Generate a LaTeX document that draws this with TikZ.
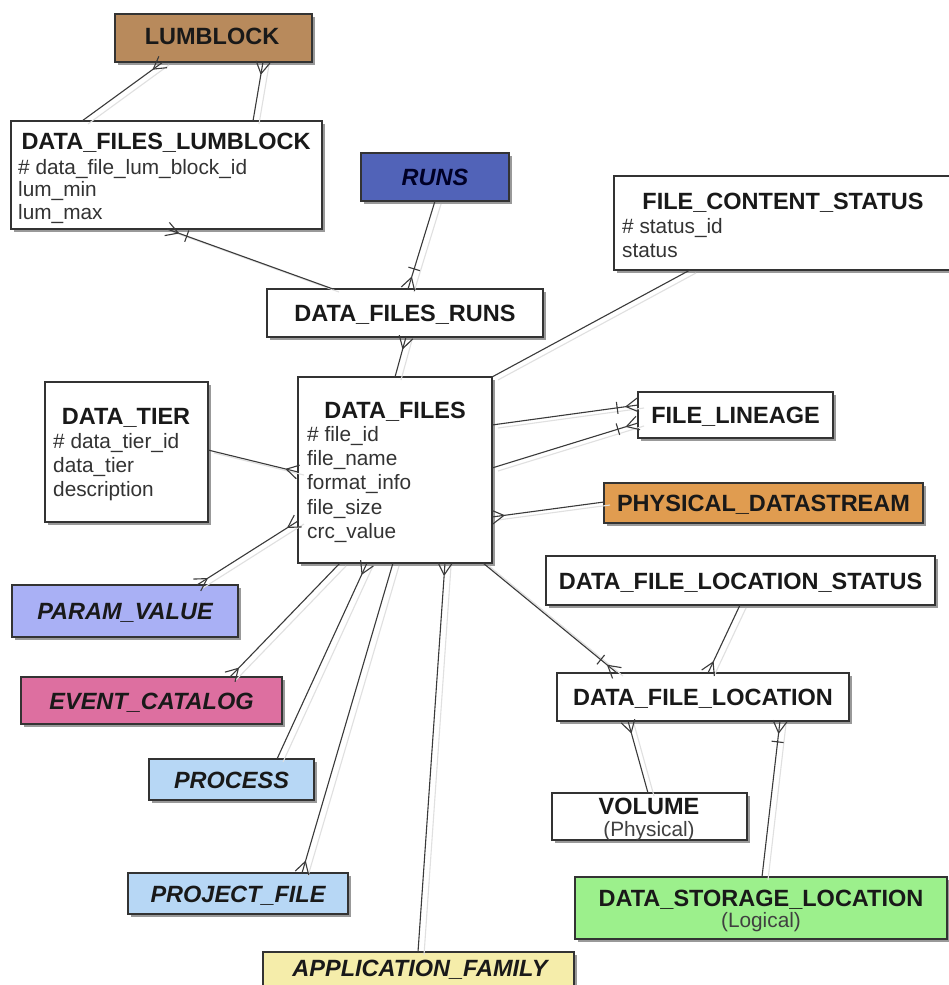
\documentclass[tikz,border=0pt]{standalone}
\usepackage{fontspec}
\setmainfont{Liberation Sans}
\usetikzlibrary{calc,shadows,decorations.markings}

\definecolor{lumbrown}{HTML}{B88A5C}
\definecolor{runsblue}{HTML}{5163B8}
\definecolor{streamorange}{HTML}{E09C50}
\definecolor{paramlav}{HTML}{A9B0F5}
\definecolor{eventpink}{HTML}{DD6FA0}
\definecolor{procblue}{HTML}{B7D7F5}
\definecolor{storegreen}{HTML}{9CF08C}
\definecolor{appyellow}{HTML}{F5EDAA}
\definecolor{inkline}{HTML}{3A3A3A}

\newcommand\erdtitle{\fontsize{23.5}{27}\selectfont\bfseries}
\newcommand\erdattr{\fontsize{20.8}{24.3}\selectfont}

% a connector with its faint offset shadow
\newcommand\erdlink[3][]{%
  \draw[linkshadow, transform canvas={shift={(6pt,-3pt)}}] #2 -- #3;
  \draw[link,#1] #2 -- #3;}

\tikzset{
  entity/.style={draw=black!80, line width=1.2pt, fill=white, rectangle,
    anchor=north west, inner sep=0pt, outer sep=0pt,
    drop shadow={shadow xshift=3pt, shadow yshift=-3pt, opacity=0.4, fill=black},
    font=\erdtitle, text=black!90, text height=17pt, text depth=0pt},
  ref/.style={font=\erdtitle\itshape},
  ttl/.style={font=\erdtitle, text=black!90, inner sep=0pt,
    text height=17pt, text depth=0pt},
  sub/.style={font=\erdattr, text=black!75, inner sep=0pt},
  attrs/.style={font=\erdattr, text=black!80, align=left,
    anchor=north west, inner sep=0pt},
  link/.style={draw=inkline, line width=1.1pt},
  linkshadow/.style={draw=black!12, line width=1.1pt},
  crow end/.style={postaction={decorate, decoration={markings,
    mark=at position 1 with {\draw[draw=inkline, line width=1.1pt]
      (-12pt,0pt) -- (0pt,7pt) (-12pt,0pt) -- (0pt,-7pt);}}}},
  crow start/.style={postaction={decorate, decoration={markings,
    mark=at position 0 with {\draw[draw=inkline, line width=1.1pt]
      (12pt,0pt) -- (0pt,7pt) (12pt,0pt) -- (0pt,-7pt);}}}},
  bar end/.style={postaction={decorate, decoration={markings,
    mark=at position 1 with {\draw[draw=inkline, line width=1.1pt]
      (-21pt,-6pt) -- (-21pt,6pt);}}}},
}

\begin{document}
\begin{tikzpicture}[x=1pt, y=-1pt]
\useasboundingbox[fill=white] (0,0) rectangle (949,985);

% ---------- entities ----------
\node[entity, fill=lumbrown, minimum width=197, minimum height=48] (lumblock) at (115,14) {};
\node[ttl] (lumblock-t) at (212,36) {LUMBLOCK};

\node[entity, minimum width=311, minimum height=108] (dflum) at (11,121) {};
\node[ttl] (dflum-t) at (166,141) {DATA\_FILES\_LUMBLOCK};
\node[attrs, font=\fontsize{20.8}{22.7}\selectfont] (dflum-a) at (18,159) {\# data\_file\_lum\_block\_id\\lum\_min\\lum\_max};

\node[entity, ref, fill=runsblue, text=black!85!blue, minimum width=148, minimum height=48] (runs) at (361,153) {RUNS};

\node[entity, minimum width=338, minimum height=94] (fcs) at (614,176) {};
\node[ttl] (fcs-t) at (783,201) {FILE\_CONTENT\_STATUS};
\node[attrs] (fcs-a) at (622,218) {\# status\_id\\status};

\node[entity, minimum width=276, minimum height=48] (dfruns) at (267,289) {DATA\_FILES\_RUNS};

\node[entity, minimum width=163, minimum height=140] (dtier) at (45,382) {};
\node[ttl] (dtier-t) at (126,416) {DATA\_TIER};
\node[attrs] (dtier-a) at (53,433) {\# data\_tier\_id\\data\_tier\\description};

\node[entity, minimum width=194, minimum height=186] (dfiles) at (298,377) {};
\node[ttl] (dfiles-t) at (395,410) {DATA\_FILES};
\node[attrs] (dfiles-a) at (307,426) {\# file\_id\\file\_name\\format\_info\\file\_size\\crc\_value};

\node[entity, minimum width=195, minimum height=46] (lineage) at (638,392) {FILE\_LINEAGE};

\node[entity, fill=streamorange, minimum width=319, minimum height=40] (pds) at (604,483) {PHYSICAL\_DATASTREAM};

\node[entity, minimum width=389, minimum height=49] (dflstatus) at (546,556) {DATA\_FILE\_LOCATION\_STATUS};

\node[entity, ref, fill=paramlav, minimum width=226, minimum height=52] (param) at (12,585) {PARAM\_VALUE};

\node[entity, minimum width=292, minimum height=48] (dfloc) at (557,673) {DATA\_FILE\_LOCATION};

\node[entity, ref, fill=eventpink, minimum width=261, minimum height=47] (event) at (21,677) {EVENT\_CATALOG};

\node[entity, ref, fill=procblue, minimum width=165, minimum height=41] (process) at (149,759) {PROCESS};

\node[entity, minimum width=195, minimum height=47] (volume) at (552,793) {};
\node[ttl] (volume-t) at (649,806) {VOLUME};
\node[sub] (volume-s) at (649,831) {(Physical)};

\node[entity, ref, fill=procblue, minimum width=220, minimum height=41] (projfile) at (128,873) {PROJECT\_FILE};

\node[entity, fill=storegreen, minimum width=372, minimum height=62] (dsl) at (575,877) {};
\node[ttl] (dsl-t) at (761,898) {DATA\_STORAGE\_LOCATION};
\node[sub] (dsl-s) at (761,922) {(Logical)};

\node[entity, fill=appyellow, minimum width=311, minimum height=45] (appfam) at (263,952) {};
\node[ttl, font=\erdtitle\itshape] (appfam-t) at (420,968) {APPLICATION\_FAMILY};

% ---------- relationships ----------
\erdlink[crow end]{($(dflum.north west)+(71,0)$)}{($(lumblock.south west)+(48,0)$)}
\erdlink[crow end]{($(dflum.north west)+(242,0)$)}{($(lumblock.south west)+(148,0)$)}
\erdlink[crow end, bar end]{($(dfruns.north west)+(66,0)$)}{($(dflum.south west)+(156,0)$)}
\erdlink[crow end, bar end]{($(runs.south west)+(74,0)$)}{($(dfruns.north west)+(141,0)$)}
\erdlink[crow end]{($(dfiles.north west)+(97,0)$)}{($(dfruns.south west)+(139,0)$)}
\erdlink{($(fcs.south west)+(76,0)$)}{(dfiles.north east)}
\erdlink[crow end, bar end]{($(dfiles.north east)+(0,48)$)}{($(lineage.north west)+(0,13)$)}
\erdlink[crow end, bar end]{($(dfiles.north east)+(0,91)$)}{($(lineage.north west)+(0,31)$)}
\erdlink[crow end]{($(pds.north west)+(0,19)$)}{($(dfiles.north east)+(0,140)$)}
\erdlink[crow end]{($(dtier.north east)+(0,68)$)}{($(dfiles.north west)+(0,95)$)}
\erdlink[crow start, crow end]{($(param.north west)+(185,0)$)}{($(dfiles.north west)+(0,144)$)}
\erdlink[crow start]{($(event.north west)+(209,0)$)}{($(dfiles.south west)+(42,0)$)}
\erdlink[crow end]{($(process.north west)+(128,0)$)}{($(dfiles.south west)+(69,0)$)}
\erdlink[crow start]{($(projfile.north west)+(174,0)$)}{($(dfiles.south west)+(95,0)$)}
\erdlink[crow end]{($(appfam.north west)+(155,0)$)}{($(dfiles.south west)+(147,0)$)}
\erdlink[crow end, bar end]{($(dfiles.south east)+(-9,0)$)}{($(dfloc.north west)+(60,0)$)}
\erdlink[crow end]{($(dflstatus.south west)+(194,0)$)}{($(dfloc.north west)+(151,0)$)}
\erdlink[crow end]{($(volume.north west)+(96,0)$)}{($(dfloc.south west)+(71,0)$)}
\erdlink[crow end, bar end]{($(dsl.north west)+(187,0)$)}{($(dfloc.south west)+(223,0)$)}
\end{tikzpicture}
\end{document}
